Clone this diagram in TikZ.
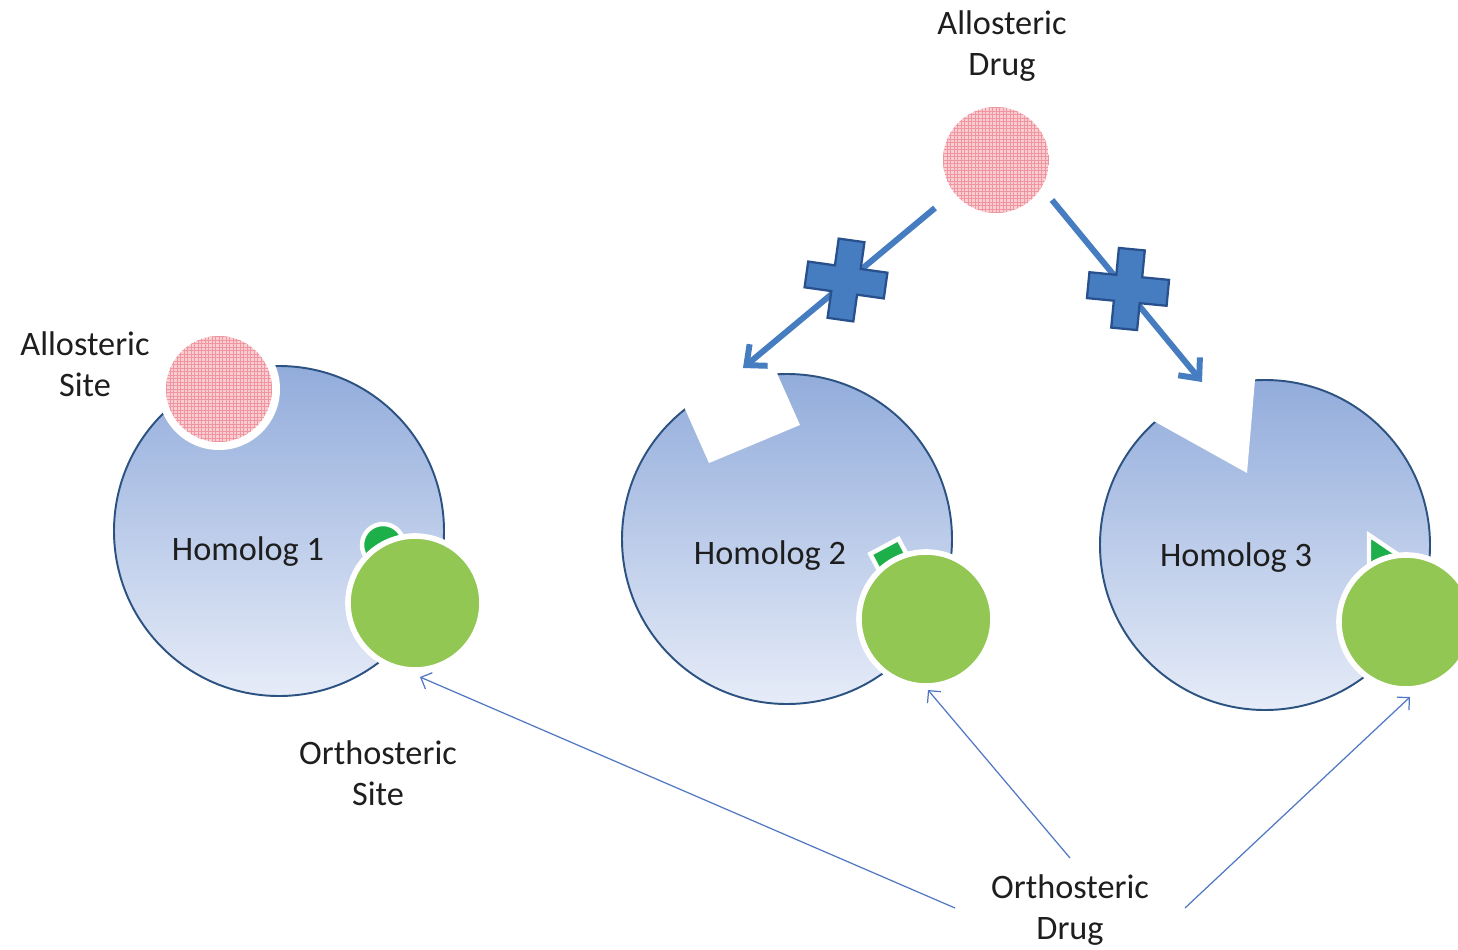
\documentclass[tikz,border=0pt]{standalone}
\usepackage{fontspec}
\setmainfont{Carlito}
\usetikzlibrary{arrows.meta}
\definecolor{cellTop}{RGB}{146,172,219}
\definecolor{cellBot}{RGB}{230,236,248}
\definecolor{cellLine}{RGB}{44,82,130}
\definecolor{lgreen}{RGB}{146,199,83}
\definecolor{dgreen}{RGB}{29,175,74}
\definecolor{pinkfill}{RGB}{250,205,210}
\definecolor{pinkline}{RGB}{240,150,160}
\definecolor{thickblue}{RGB}{70,125,192}
\definecolor{crossline}{RGB}{40,80,140}
\definecolor{thinblue}{RGB}{80,120,195}
\definecolor{txt}{RGB}{30,30,30}
\tikzset{
  cell/.style={top color=cellTop, bottom color=cellBot, draw=cellLine, line width=1.1pt},
  lbl/.style={font=\fontsize{19.5}{23.5}\selectfont, text=txt, align=center, inner sep=0pt},
  ortho/.style={fill=lgreen, draw=white, line width=3.2pt},
  pocket/.style={fill=dgreen, draw=white, line width=2.5pt},
  bigarrow/.style={draw=thickblue, line width=3.4pt, -{Straight Barb[length=9pt,width=16pt,line width=3.4pt]}},
  thinarrow/.style={draw=thinblue, line width=0.7pt, -{Straight Barb[length=5pt,width=10pt]}},
  crossshape/.style={fill=thickblue, draw=crossline, line width=1.3pt, line join=miter},
}
\newcommand{\pinkdisc}[3]{%
  \begin{scope}
    \clip (#1,#2) circle[radius=#3];
    \fill[pinkfill] (#1-#3,#2-#3) rectangle (#1+#3,#2+#3);
    \foreach \k in {-15,...,15} {
      \draw[pinkline, line width=0.35pt] (#1+\k*3.5,#2-#3) -- (#1+\k*3.5,#2+#3);
      \draw[pinkline, line width=0.35pt] (#1-#3,#2+\k*3.5) -- (#1+#3,#2+\k*3.5);
    }
  \end{scope}}
\newcommand{\plus}{(-13,-40) -- (13,-40) -- (13,-13) -- (40,-13) -- (40,13) -- (13,13) -- (13,40) -- (-13,40) -- (-13,13) -- (-40,13) -- (-40,-13) -- (-13,-13) -- cycle}
\begin{document}
\begin{tikzpicture}[x=0.02cm,y=-0.02cm]
\clip (0,0) rectangle (1458,950);
\fill[white] (0,0) rectangle (1458,950);

% ---------- Homolog 1 ----------
\path[cell] (279,531) circle[radius=165];
\fill[white] (219,389) circle[radius=61];
\pinkdisc{219}{389}{53}
\path[pocket] (383,545) circle[radius=21];
\path[ortho] (415,603) circle[radius=67];

% ---------- Homolog 2 ----------
\path[cell] (787,539) circle[radius=165];
\fill[white] (709,463) -- (800,425) -- (760,335) -- (669,373) -- cycle;
\begin{scope}[shift={(890,557)}, rotate=28]
  \path[pocket] (-16,-12) rectangle (16,14);
\end{scope}
\path[ortho] (926,619) circle[radius=67];

% ---------- Homolog 3 ----------
\path[cell] (1265,545) circle[radius=165];
\fill[white] (1247,473) -- (1080,380) -- (1261,310) -- cycle;
\path[pocket] (1369,535) -- (1400,556) -- (1369,572) -- cycle;
\path[ortho] (1406,622) circle[radius=67];

% ---------- Allosteric drug ----------
\pinkdisc{996}{160}{53}

% ---------- named anchor points ----------
\coordinate (d1s) at (935,208);
\coordinate (d1e) at (743,368);
\coordinate (d2s) at (1052,200);
\coordinate (d2e) at (1202,382);
\coordinate (o1) at (420,677);
\coordinate (o2) at (928,690);
\coordinate (o3) at (1410,697);

% ---------- thick arrows with crosses ----------
\draw[bigarrow] (d1s) -- (d1e);
\draw[bigarrow] (d2s) -- (d2e);
\begin{scope}[shift={(846,280)}, rotate=-8]
  \path[crossshape] \plus;
\end{scope}
\begin{scope}[shift={(1128,289)}, rotate=-5.5]
  \path[crossshape] \plus;
\end{scope}

% ---------- labels ----------
\node[lbl] (adrug) at (1002,46) {Allosteric\\Drug};
\node[lbl] (asite) at (85,364) {Allosteric\\Site};
\node[lbl] (h1) at (248,552) {Homolog 1};
\node[lbl] (h2) at (770,556) {Homolog 2};
\node[lbl] (h3) at (1236,558) {Homolog 3};
\node[lbl] (osite) at (378,773) {Orthosteric\\Site};
\node[lbl] (odrug) at (1070,910) {Orthosteric\\Drug};

% ---------- thin arrows ----------
\coordinate (t1) at (955,908);
\coordinate (t2) at (1070,858);
\coordinate (t3) at (1185,908);
\draw[thinarrow] (t1) -- (o1);
\draw[thinarrow] (t2) -- (o2);
\draw[thinarrow] (t3) -- (o3);
\end{tikzpicture}
\end{document}
